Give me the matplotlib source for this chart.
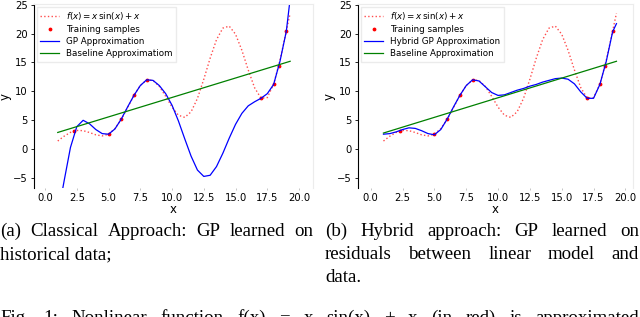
import matplotlib
matplotlib.use('Agg')
import matplotlib.pyplot as plt

# values
xGrid = [1.0, 1.5, 2.0, 2.5, 3.0, 3.5, 4.0, 4.5, 5.0, 5.5, 6.0, 6.5, 7.0,
         7.5, 8.0, 8.5, 9.0, 9.5, 10.0, 10.5, 11.0, 11.5, 12.0, 12.5, 13.0,
         13.5, 14.0, 14.5, 15.0, 15.5, 16.0, 16.5, 17.0, 17.5, 18.0, 18.5,
         19.0, 19.3]
fTrue = [1.42, 2.25, 2.91, 3.25, 3.21, 2.89, 2.49, 2.30, 2.60, 3.56, 5.16,
         7.20, 9.30, 11.02, 11.96, 11.89, 10.85, 9.14, 7.28, 5.88, 5.50, 6.47,
         8.78, 12.09, 15.73, 18.93, 20.93, 21.28, 19.88, 17.10, 13.70, 10.63,
         8.83, 8.92, 11.24, 15.37, 20.42, 23.50]
gpClassic = [-11.5, -5.5, 0.3, 3.9, 5.0, 4.4, 3.4, 2.7, 2.6, 3.5, 5.2, 7.3,
             9.3, 11.0, 12.0, 11.9, 11.0, 9.6, 7.6, 4.9, 1.8, -1.2, -3.6,
             -4.7, -4.5, -3.0, -0.7, 1.9, 4.3, 6.2, 7.5, 8.2, 8.8, 9.6, 11.2,
             15.2, 20.4, 26.0]
gpHybrid = [2.6, 2.7, 3.0, 3.4, 3.7, 3.6, 3.2, 2.7, 2.5, 3.4, 5.2, 7.3, 9.3,
            11.0, 12.0, 11.8, 10.8, 9.8, 9.3, 9.4, 9.8, 10.2, 10.5, 10.9,
            11.2, 11.6, 11.9, 12.2, 12.3, 12.1, 11.3, 9.9, 8.8, 8.8, 11.2,
            15.2, 20.3, 21.7]
trainX = [2.3, 5.0, 6.0, 7.0, 8.0, 17.0, 18.0, 18.4, 19.0]
trainY = [3.15, 2.60, 5.16, 9.30, 11.96, 8.83, 11.24, 14.4, 20.42]
baseX = [1.0, 19.3]
baseClassic = [2.9, 15.2]
baseHybrid = [2.8, 15.2]

xTicks = [0.0, 2.5, 5.0, 7.5, 10.0, 12.5, 15.0, 17.5, 20.0]
yTicks = [-5, 0, 5, 10, 15, 20, 25]
fLabel = r'$f(x) = x\,\sin(x) + x$'

captionA = ['(a) Classical Approach: GP learned on', 'historical data;']
captionB = ['(b) Hybrid approach: GP learned on',
            'residuals between linear model and', 'data.']
figLine = 'Fig. 1: Nonlinear function f(x) = x sin(x) + x (in red) is approximated'


def plotPanel(axes, gp, base, gpName, baseName, xlim):
    axes.plot(xGrid, fTrue, ':', color='red', lw=1.0, alpha=0.7, label=fLabel)
    axes.plot(trainX, trainY, '.', color='red', markersize=3.5,
              label='Training samples')
    axes.plot(xGrid, gp, '-', color='blue', lw=0.9, label=gpName)
    axes.plot(baseX, base, '-', color='green', lw=0.9, label=baseName)
    axes.set_xlim(*xlim)
    axes.set_ylim(-6.7, 25.1)
    axes.set_xticks(xTicks)
    axes.set_xticklabels(['%.1f' % t for t in xTicks])
    axes.set_yticks(yTicks)
    axes.tick_params(labelsize=7.2, length=2.5, width=0.6, pad=2)
    axes.tick_params(axis='x', length=1.5, color='#bbbbbb')
    axes.set_xlabel('x', fontsize=8.5, labelpad=0)
    axes.set_ylabel('y', fontsize=8.5, labelpad=1)
    axes.spines['left'].set_color('black')
    axes.spines['left'].set_linewidth(0.8)
    axes.spines['bottom'].set_visible(False)
    for side in ['top', 'right']:
        axes.spines[side].set_color('#ececec')
        axes.spines[side].set_linewidth(0.8)
    axes.legend(loc='upper left', fontsize=6.3, handlelength=2.2,
                borderaxespad=0.3, labelspacing=0.35, borderpad=0.4,
                fancybox=False, edgecolor='#e6e6e6')


def justifyLine(text, x0, x1, yPix, size, stretch=True):
    if not stretch:
        figure.text(x0 / 640, 1 - yPix / 317, text, fontsize=size,
                    family='Liberation Serif', va='baseline')
        return
    renderer = figure.canvas.get_renderer()
    words = text.split(' ')
    items = [figure.text(0, 1 - yPix / 317, word, fontsize=size,
                         family='Liberation Serif', va='baseline')
             for word in words]
    widths = [item.get_window_extent(renderer).width for item in items]
    gap = (x1 - x0 - sum(widths)) / (len(words) - 1)
    x = x0
    for item, width in zip(items, widths):
        item.set_x(x / 640)
        x += width + gap


figure = plt.figure(figsize=(6.4, 3.17), dpi=100)
axesA = figure.add_axes([34 / 640, 1 - 188 / 317, 279 / 640, 184 / 317])
plotPanel(axesA, gpClassic, baseClassic, 'GP Approximation',
          'Baseline Approximatiom', (-0.87, 21.1))
axesB = figure.add_axes([358 / 640, 1 - 188 / 317, 275 / 640, 184 / 317])
plotPanel(axesB, gpHybrid, baseHybrid, 'Hybrid GP Approximation',
          'Baseline Approximation', (-1.0, 20.6))

capSize = 13.6
justifyLine(captionA[0], 0, 313, 236, capSize)
justifyLine(captionA[1], 0, 313, 259, capSize, stretch=False)
justifyLine(captionB[0], 325, 639, 236, capSize)
justifyLine(captionB[1], 325, 639, 259, capSize)
justifyLine(captionB[2], 325, 639, 282, capSize, stretch=False)
justifyLine(figLine, 0, 639, 323, capSize)

figure.savefig('out.png', dpi=100)
